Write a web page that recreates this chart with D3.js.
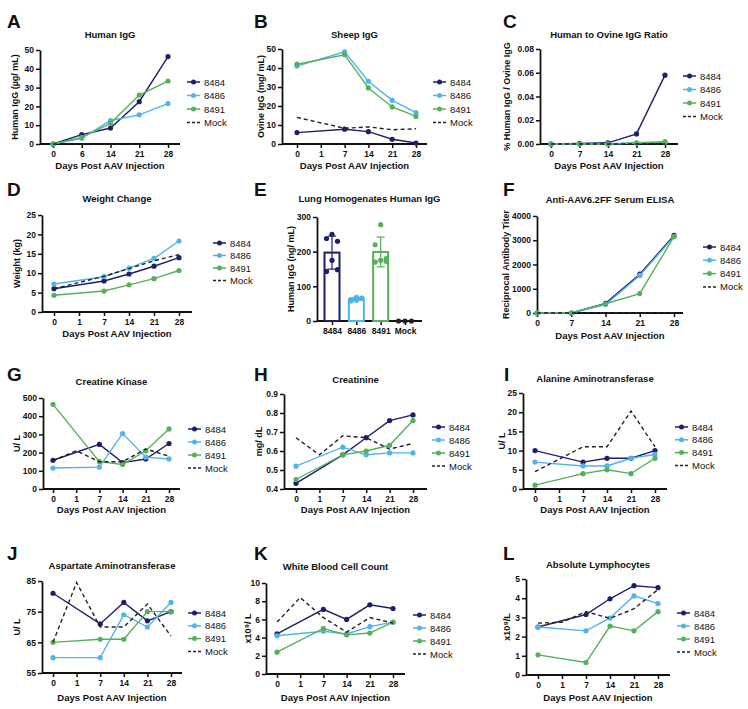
<!DOCTYPE html>
<html><head><meta charset="utf-8">
<script src="https://cdn.jsdelivr.net/npm/d3@7"></script>
<style>
body{margin:0;background:#fff}
svg{display:block}
text{font-family:"Liberation Sans",Arial,sans-serif;fill:#111}
</style>
</head><body>
<svg id="c" width="748" height="709"></svg>
<script>
// ---------- DATA ----------
const seriesNames = ["8484", "8486", "8491", "Mock"];
const seriesColors = ["#1d1f6e", "#4fb4ee", "#55b05a", "#222222"];

// A: Human IgG (µg/mL)
const daysA = [0, 6, 14, 21, 28];
const humanIgG = [
  [0, 5, 8.5, 22.5, 46.5],
  [0, 3, 12.5, 15.5, 21.5],
  [0, 3.5, 11, 26, 33.5],
  [0, 0, 0, 0, 0]
];
const ticksA = [0, 10, 20, 30, 40, 50];

// B: Sheep IgG (mg/mL)
const daysB = [0, 1, 7, 14, 21, 28];
const sheepIgG = [
  [6, null, 7.8, 6.5, 2.5, 0.5],
  [41, null, 48.5, 33, 23, 16.5],
  [42, null, 47, 29.5, 19.5, 14.5],
  [14, null, 8.3, 9, 7.5, 8]
];
const ticksB = [0, 10, 20, 30, 40, 50];

// C: Human to ovine IgG ratio
const daysC = [0, 7, 14, 21, 28];
const ratioIgG = [
  [0, 0.0005, 0.001, 0.0085, 0.058],
  [0, 0, 0, 0.001, 0.002],
  [0, 0, 0, 0.0008, 0.0015],
  [0, 0, 0, 0, 0]
];
const ticksC = [0, 0.02, 0.04, 0.06, 0.08];

// D: Weight change (kg)
const daysD = [0, 1, 7, 14, 21, 28];
const weight = [
  [6, null, 8, 9.8, 11.8, 14],
  [7.2, null, 9.1, 11.3, 13.8, 18.3],
  [4.3, null, 5.4, 7, 8.6, 10.7],
  [6, null, 9.2, 11.2, 13.2, 14.8]
];
const ticksD = [0, 5, 10, 15, 20, 25];

// E: Lung homogenates human IgG (ng/mL), individual values
const lungGroups = ["8484", "8486", "8491", "Mock"];
const lung8484 = [250, 238, 230, 175, 143, 148];
const lung8486 = [68, 62, 66, 60, 58, 65];
const lung8491 = [278, 220, 180, 175, 170, 172];
const lungMock = [0, 0, 0];
const ticksE = [0, 100, 200, 300];

// F: Anti-AAV6.2FF serum ELISA
const daysF = [0, 7, 14, 21, 28];
const elisa = [
  [0, 0, 400, 1600, 3200],
  [0, 0, 350, 1550, 3150],
  [0, 0, 380, 800, 3150],
  [0, 0, 0, 0, 0]
];
const ticksF = [0, 1000, 2000, 3000, 4000];

// G: Creatine kinase (U/L)
const daysG = [0, 1, 7, 14, 21, 28];
const creatineKinase = [
  [158, null, 245, 145, 165, 250],
  [115, null, 120, 305, 175, 165],
  [465, null, 150, 135, 210, 330],
  [155, 210, 150, 150, 220, 180]
];
const ticksG = [0, 100, 200, 300, 400, 500];

// H: Creatinine (mg/dL)
const daysH = [0, 1, 7, 14, 21, 28];
const creatinine = [
  [0.43, null, 0.58, 0.67, 0.76, 0.79],
  [0.52, null, 0.62, 0.58, 0.59, 0.59],
  [0.45, null, 0.58, 0.60, 0.63, 0.76],
  [0.67, 0.58, 0.68, 0.67, 0.61, 0.64]
];
const ticksH = [0.4, 0.5, 0.6, 0.7, 0.8, 0.9];

// I: Alanine aminotransferase (U/L)
const daysI = [0, 1, 7, 14, 21, 28];
const alt = [
  [10, null, 7, 8, 8, 10],
  [7, null, 6, 6, 8, 9],
  [1, null, 4, 5, 4, 8],
  [4.5, null, 11, 11, 20.3, 11]
];
const ticksI = [0, 5, 10, 15, 20, 25];

// J: Aspartate aminotransferase (U/L)
const daysJ = [0, 1, 7, 14, 21, 28];
const ast = [
  [81, null, 71, 78, 72, 75],
  [60, null, 60, 74, 70, 78],
  [65, null, 66, 66, 75, 75],
  [65, 84.5, 70, 70, 77.5, 67]
];
const ticksJ = [55, 65, 75, 85];

// K: White blood cell count (x10^9/L)
const daysK = [0, 1, 7, 14, 21, 28];
const wbc = [
  [4.4, null, 7.1, 6.0, 7.6, 7.2],
  [4.2, null, 4.7, 4.4, 5.2, 5.7],
  [2.4, null, 5.0, 4.3, 4.5, 5.7],
  [5.7, 8.4, 6.2, 4.6, 6.2, 5.6]
];
const ticksK = [0, 2, 4, 6, 8, 10];

// L: Absolute lymphocytes (x10^9/L)
const daysL = [0, 1, 7, 14, 21, 28];
const lymph = [
  [2.5, null, 3.15, 3.97, 4.65, 4.55],
  [2.5, null, 2.3, 2.97, 4.12, 3.72],
  [1.05, null, 0.65, 2.55, 2.3, 3.3],
  [2.7, 2.75, 3.3, 2.95, 3.45, 4.45]
];
const ticksL = [0, 1, 2, 3, 4, 5];

// ---------- DRAWING ----------
const svg = d3.select("#c");
const XT = "Days Post AAV Injection";

function styleAxis(g) {
  g.selectAll(".domain").attr("stroke", "#111").attr("stroke-width", 1.8);
  g.selectAll(".tick line").attr("stroke", "#111").attr("stroke-width", 1.5);
  g.selectAll(".tick text").attr("font-size", "8.5px").attr("font-weight", "bold")
    .attr("font-family", '"Liberation Sans",Arial,sans-serif').attr("fill", "#111");
}

function frame(p, x, y) {
  const g = svg.append("g");
  g.append("text").attr("x", p.lx).attr("y", p.ly).attr("font-size", "19px")
    .attr("font-weight", "bold").text(p.label);
  g.append("text").attr("x", (p.ax + p.xEnd) / 2).attr("y", p.ty)
    .attr("text-anchor", "middle").attr("dominant-baseline", "central")
    .attr("font-size", "9.5px").attr("font-weight", "bold").text(p.title);
  const ya = g.append("g").attr("transform", `translate(${p.ax},0)`)
    .call(d3.axisLeft(y).tickValues(p.yTicks).tickFormat(p.fmt || d3.format("d"))
      .tickSize(4).tickSizeOuter(0).tickPadding(2));
  styleAxis(ya);
  const xa = g.append("g").attr("transform", `translate(0,${p.yBot})`)
    .call(d3.axisBottom(x).tickSize(4).tickSizeOuter(0).tickPadding(3));
  styleAxis(xa);
  xa.select(".domain").remove();
  g.append("line").attr("x1", p.ax).attr("x2", p.xEnd).attr("y1", p.yBot).attr("y2", p.yBot)
    .attr("stroke", "#111").attr("stroke-width", 1.8);
  g.append("text").attr("transform", `translate(${p.ylx},${(p.yTop + p.yBot) / 2}) rotate(-90)`)
    .attr("text-anchor", "middle").attr("dominant-baseline", "central")
    .attr("font-size", "9px").attr("font-weight", "bold").text(p.ylabel);
  if (p.xlabel) {
    g.append("text").attr("x", (p.ax + p.xEnd) / 2).attr("y", p.xly)
      .attr("text-anchor", "middle").attr("dominant-baseline", "central")
      .attr("font-size", "9.5px").attr("font-weight", "bold").text(p.xlabel);
  }
  return g;
}

function legend(g, p) {
  seriesNames.forEach((n, i) => {
    const yy = p.legY + i * p.legDy;
    const l = g.append("line").attr("x1", p.legX).attr("x2", p.legX + 13)
      .attr("y1", yy).attr("y2", yy).attr("stroke", seriesColors[i]).attr("stroke-width", 1.5);
    if (i === 3) l.attr("stroke-dasharray", "3,2");
    else g.append("circle").attr("cx", p.legX + 6.5).attr("cy", yy).attr("r", 2.5).attr("fill", seriesColors[i]);
    g.append("text").attr("x", p.legX + 17).attr("y", yy).attr("dominant-baseline", "central")
      .attr("font-size", "9.5px").text(n);
  });
}

function linePanel(p) {
  const x = d3.scalePoint().domain(p.cats).range([p.x0, p.x1]);
  const y = d3.scaleLinear().domain(p.yDomain).range([p.yBot, p.yTop]);
  const g = frame(p, x, y);
  const line = d3.line().x(d => x(d.c)).y(d => y(d.v));
  p.data.forEach((vals, i) => {
    const pts = p.cats.map((c, j) => ({ c, v: vals[j] })).filter(d => d.v != null);
    const path = g.append("path").attr("d", line(pts)).attr("fill", "none")
      .attr("stroke", seriesColors[i]).attr("stroke-width", 1.4);
    if (i === 3) path.attr("stroke-dasharray", "4,3");
    else g.selectAll(null).data(pts).join("circle").attr("cx", d => x(d.c)).attr("cy", d => y(d.v))
      .attr("r", 2.6).attr("fill", seriesColors[i]);
  });
  legend(g, p);
}

function barPanel(p) {
  const x = d3.scalePoint().domain(p.cats).range([p.x0, p.x1]);
  const y = d3.scaleLinear().domain(p.yDomain).range([p.yBot, p.yTop]);
  const g = frame(p, x, y);
  const groups = [lung8484, lung8486, lung8491, lungMock];
  const jitter = [0, -1, 1, 0, -1, 1];
  groups.forEach((vals, i) => {
    const cx = x(p.cats[i]);
    const m = d3.mean(vals), sd = d3.deviation(vals) || 0;
    const c = seriesColors[i];
    if (m > 0) {
      g.append("rect").attr("x", cx - 7.5).attr("width", 15).attr("y", y(m))
        .attr("height", y(0) - y(m)).attr("fill", "#fff").attr("stroke", c).attr("stroke-width", 2);
      g.append("line").attr("x1", cx).attr("x2", cx).attr("y1", y(m + sd)).attr("y2", y(m - sd))
        .attr("stroke", c).attr("stroke-width", 1.2);
      [m + sd, m - sd].forEach(v => g.append("line").attr("x1", cx - 4).attr("x2", cx + 4)
        .attr("y1", y(v)).attr("y2", y(v)).attr("stroke", c).attr("stroke-width", 1.2));
    }
    vals.forEach((v, k) => {
      const off = vals.length === 3 ? (k - 1) * 6.5 : jitter[k] * 5.5;
      g.append("circle").attr("cx", cx + off).attr("cy", y(v)).attr("r", 2.6).attr("fill", c);
    });
  });
}

const common = { xlabel: XT };
const panels = [
  { label: "A", lx: 7, ly: 28, title: "Human IgG", ty: 34, ax: 40, xEnd: 180, yTop: 50, yBot: 144,
    x0: 53, x1: 168, cats: daysA, yDomain: [0, 50], yTicks: ticksA, data: humanIgG,
    ylabel: "Human IgG (µg/ mL)", ylx: 15, xly: 165, legX: 187, legY: 82, legDy: 13.5 },
  { label: "B", lx: 254, ly: 28, title: "Sheep IgG", ty: 34, ax: 282, xEnd: 427, yTop: 49, yBot: 144,
    x0: 297, x1: 416, cats: daysB, yDomain: [0, 50], yTicks: ticksB, data: sheepIgG,
    ylabel: "Ovine IgG (mg/ mL)", ylx: 261, xly: 165, legX: 433, legY: 82, legDy: 13.5 },
  { label: "C", lx: 503, ly: 28, title: "Human to Ovine IgG Ratio", ty: 34, ax: 540, xEnd: 678, yTop: 49, yBot: 144,
    x0: 551, x1: 665, cats: daysC, yDomain: [0, 0.08], yTicks: ticksC, fmt: d3.format(".2f"), data: ratioIgG,
    ylabel: "% Human IgG / Ovine IgG", ylx: 507, xly: 165, legX: 683, legY: 76, legDy: 13.5 },
  { label: "D", lx: 7, ly: 196, title: "Weight Change", ty: 198, ax: 42, xEnd: 192, yTop: 215, yBot: 312,
    x0: 54, x1: 179, cats: daysD, yDomain: [0, 25], yTicks: ticksD, data: weight,
    ylabel: "Weight (kg)", ylx: 17, xly: 333, legX: 213, legY: 243, legDy: 12.5 },
  { label: "F", lx: 503, ly: 196, title: "Anti-AAV6.2FF Serum ELISA", ty: 199, ax: 537, xEnd: 683, yTop: 216, yBot: 313,
    x0: 537, x1: 674, cats: daysF, yDomain: [0, 4000], yTicks: ticksF, data: elisa,
    ylabel: "Reciprocal Antibody Titer", ylx: 506, xly: 335, legX: 703, legY: 247, legDy: 13.3 },
  { label: "G", lx: 7, ly: 381, title: "Creatine Kinase", ty: 381, ax: 43, xEnd: 180, yTop: 398, yBot: 489,
    x0: 53, x1: 169, cats: daysG, yDomain: [0, 500], yTicks: ticksG, data: creatineKinase,
    ylabel: "U/ L", ylx: 17, xly: 509, legX: 188, legY: 429, legDy: 13 },
  { label: "H", lx: 254, ly: 381, title: "Creatinine", ty: 379, ax: 284, xEnd: 427, yTop: 394, yBot: 489,
    x0: 296, x1: 413, cats: daysH, yDomain: [0.4, 0.9], yTicks: ticksH, fmt: d3.format(".1f"), data: creatinine,
    ylabel: "mg/ dL", ylx: 259, xly: 509, legX: 432, legY: 427, legDy: 13 },
  { label: "I", lx: 504, ly: 381, title: "Alanine Aminotransferase", ty: 378, ax: 523, xEnd: 667, yTop: 393, yBot: 489,
    x0: 535, x1: 655, cats: daysI, yDomain: [0, 25], yTicks: ticksI, data: alt,
    ylabel: "U/ L", ylx: 502, xly: 509, legX: 675, legY: 427, legDy: 12.8 },
  { label: "J", lx: 7, ly: 560, title: "Aspartate Aminotransferase", ty: 565, ax: 42, xEnd: 182, yTop: 581, yBot: 673,
    x0: 53, x1: 171, cats: daysJ, yDomain: [55, 85], yTicks: ticksJ, data: ast,
    ylabel: "U/ L", ylx: 17, xly: 697, legX: 188, legY: 613, legDy: 12.8 },
  { label: "K", lx: 254, ly: 560, title: "White Blood Cell Count", ty: 566, ax: 266, xEnd: 405, yTop: 583, yBot: 674,
    x0: 277, x1: 393, cats: daysK, yDomain: [0, 10], yTicks: ticksK, data: wbc,
    ylabel: "x10⁹/ L", ylx: 248, xly: 697, legX: 413, legY: 615, legDy: 13 },
  { label: "L", lx: 503, ly: 560, title: "Absolute Lymphocytes", ty: 564, ax: 526, xEnd: 670, yTop: 579, yBot: 675,
    x0: 538, x1: 658, cats: daysL, yDomain: [0, 5], yTicks: ticksL, data: lymph,
    ylabel: "x10⁹/L", ylx: 507, xly: 697, legX: 677, legY: 613, legDy: 13 }
];
panels.forEach(p => linePanel(Object.assign({}, common, p)));

barPanel({ label: "E", lx: 254, ly: 196, title: "Lung Homogenates Human IgG", ty: 198, ax: 317, xEnd: 422,
  yTop: 217, yBot: 321, x0: 332, x1: 405, cats: lungGroups, yDomain: [0, 300], yTicks: ticksE,
  ylabel: "Human IgG (ng/ mL)", ylx: 291 });
</script>
</body></html>
